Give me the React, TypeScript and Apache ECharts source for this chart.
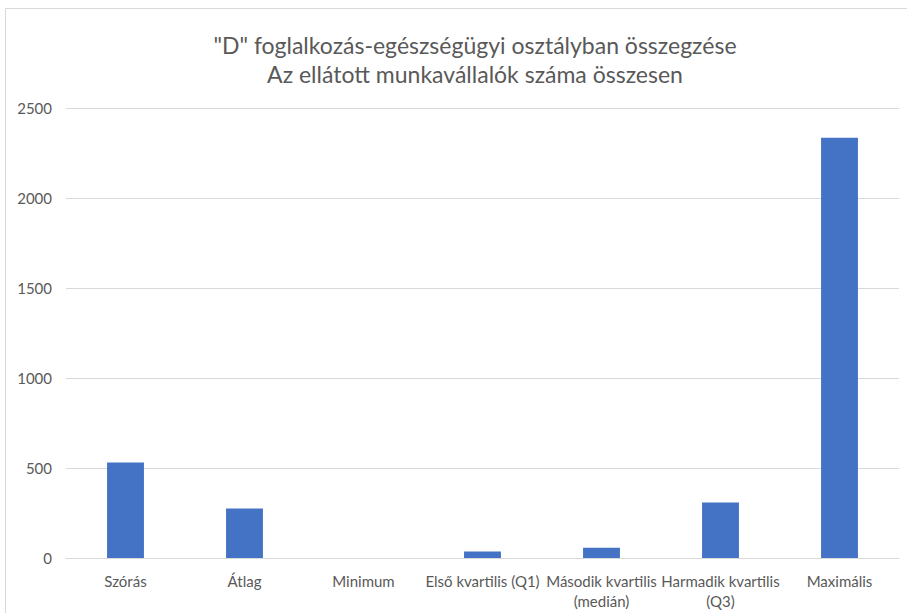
import React, { useEffect, useRef } from "react";
import * as echarts from "echarts";

const titleLines = [
  "\"D\" foglalkozás-egészségügyi osztályban összegzése",
  "Az ellátott munkavállalók száma összesen",
];
const categories = [
  "Szórás",
  "Átlag",
  "Minimum",
  "Első kvartilis (Q1)",
  "Második kvartilis\n(medián)",
  "Harmadik kvartilis\n(Q3)",
  "Maximális",
];
const values = [531, 275, 0, 36, 57, 309, 2335];
const yTicks = { min: 0, max: 2500, interval: 500 };

export default function App() {
  const ref = useRef<HTMLDivElement>(null);
  useEffect(() => {
    if (!ref.current) return;
    const chart = echarts.init(ref.current, null, { renderer: "svg" });
    const font = "Lato, 'Open Sans', sans-serif";
    chart.setOption({
      animation: false,
      backgroundColor: "#ffffff",
      title: {
        text: titleLines.join("\n"),
        left: 470,
        top: 25,
        textAlign: "center",
        textStyle: {
          fontFamily: font,
          fontSize: 23,
          fontWeight: "normal",
          color: "#595959",
          lineHeight: 29,
        },
      },
      graphic: [
        {
          type: "rect",
          shape: { x: 5.5, y: 8.5, width: 1000, height: 1000 },
          style: { fill: "none", stroke: "#d9d9d9", lineWidth: 1 },
          silent: true,
        },
      ],
      grid: { left: 66, right: 8, top: 108, bottom: 55, containLabel: false },
      xAxis: {
        type: "category",
        data: categories,
        axisLine: { show: true, lineStyle: { color: "#d9d9d9" } },
        axisTick: { show: false },
        axisLabel: {
          color: "#595959",
          fontFamily: font,
          fontSize: 15,
          margin: 13,
          lineHeight: 20,
          interval: 0,
        },
      },
      yAxis: {
        type: "value",
        min: yTicks.min,
        max: yTicks.max,
        interval: yTicks.interval,
        axisLine: { show: false },
        axisTick: { show: false },
        splitLine: { lineStyle: { color: "#d9d9d9", width: 1 } },
        axisLabel: {
          color: "#595959",
          fontFamily: font,
          fontSize: 15,
          margin: 14,
          formatter: (v: number) => String(v),
        },
      },
      series: [
        {
          type: "bar",
          data: values,
          barWidth: "31%",
          itemStyle: { color: "#4472c4" },
        },
      ],
    });
    return () => chart.dispose();
  }, []);
  return (
    <div
      ref={ref}
      style={{ position: "fixed", left: 0, top: 0, width: 907, height: 613 }}
    />
  );
}
